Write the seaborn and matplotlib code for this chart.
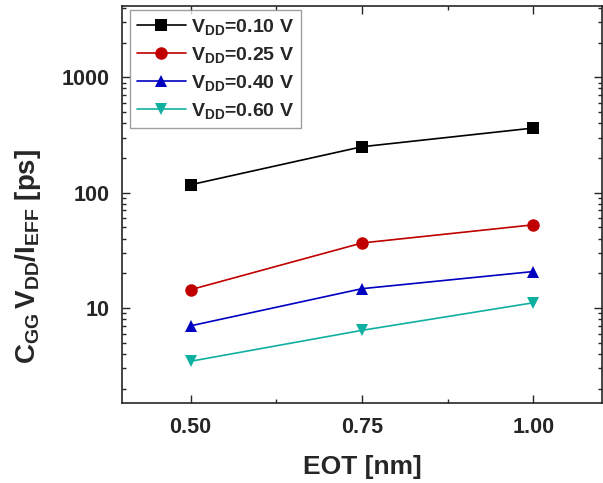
import pandas as pd
import numpy as np
import matplotlib
matplotlib.use("Agg")
import matplotlib.pyplot as plt
import seaborn as sns
from matplotlib.ticker import FixedLocator, LogLocator, NullFormatter

# values
eot = [0.50, 0.75, 1.00]
vdd_labels = ["0.10", "0.25", "0.40", "0.60"]
delay_010 = [117, 250, 363]
delay_025 = [14.4, 36.6, 52.6]
delay_040 = [7.0, 14.7, 20.7]
delay_060 = [3.45, 6.4, 11.1]

colors = ["#000000", "#C00000", "#0000C0", "#10B0A0"]
markers = ["s", "o", "^", "v"]

series = [delay_010, delay_025, delay_040, delay_060]
rows = []
for lab, vals in zip(vdd_labels, series):
    for x, y in zip(eot, vals):
        rows.append({"EOT": x, "delay": y, "VDD": r"$V_{DD}$=" + lab + " V"})
df = pd.DataFrame(rows)

sns.set_style("ticks")
plt.rcParams["font.family"] = ["Liberation Sans", "DejaVu Sans"]
plt.rcParams["font.weight"] = "bold"
plt.rcParams["mathtext.fontset"] = "custom"
plt.rcParams["mathtext.rm"] = "Liberation Sans:bold"
plt.rcParams["mathtext.it"] = "Liberation Sans:bold"
plt.rcParams["mathtext.bf"] = "Liberation Sans:bold"
plt.rcParams["mathtext.default"] = "rm"

fig = plt.figure(figsize=(6.03, 4.83), dpi=100)
ax = fig.add_axes([122 / 603, 1 - 403 / 483, (602 - 122) / 603, (403 - 6) / 483])

hue_order = [r"$V_{DD}$=" + l + " V" for l in vdd_labels]
sns.lineplot(data=df, x="EOT", y="delay", hue="VDD", style="VDD",
             hue_order=hue_order, style_order=hue_order,
             palette=colors, markers=markers, dashes=False,
             markersize=9, markeredgewidth=0, linewidth=1.2, ax=ax)

ax.set_yscale("log")
ax.set_xlim(0.4, 1.1)
ax.set_ylim(1.5, 4150)
ax.xaxis.set_major_locator(FixedLocator([0.5, 0.75, 1.0]))
ax.xaxis.set_minor_locator(FixedLocator([0.625, 0.875]))
ax.set_xticklabels(["0.50", "0.75", "1.00"])
ax.yaxis.set_major_locator(FixedLocator([10, 100, 1000]))
ax.set_yticklabels(["10", "100", "1000"])
ax.yaxis.set_minor_locator(LogLocator(base=10, subs=np.arange(2, 10)))
ax.yaxis.set_minor_formatter(NullFormatter())

ax.tick_params(which="both", direction="in", top=True, right=True, width=1)
ax.tick_params(which="major", length=6, labelsize=15.5, pad=10)
ax.tick_params(axis="y", which="major", pad=9)
ax.tick_params(which="minor", length=3)
for s in ax.spines.values():
    s.set_linewidth(1.2)

ax.set_xlabel("EOT [nm]", fontsize=19, fontweight="bold", labelpad=12)
ax.set_ylabel(r"$C_{GG}\,V_{DD}/I_{EFF}$ [ps]", fontsize=20, fontweight="bold")
ax.yaxis.set_label_coords(-0.165, 0.37)

leg = ax.legend(loc="upper left", fontsize=14, handlelength=2.5, handletextpad=0.3,
                borderpad=0.35, labelspacing=0.42, frameon=True, fancybox=False,
                edgecolor="#888888", bbox_to_anchor=(0.017, 0.99), borderaxespad=0)
leg.get_frame().set_linewidth(1.0)

fig.savefig("out.png", dpi=100)
